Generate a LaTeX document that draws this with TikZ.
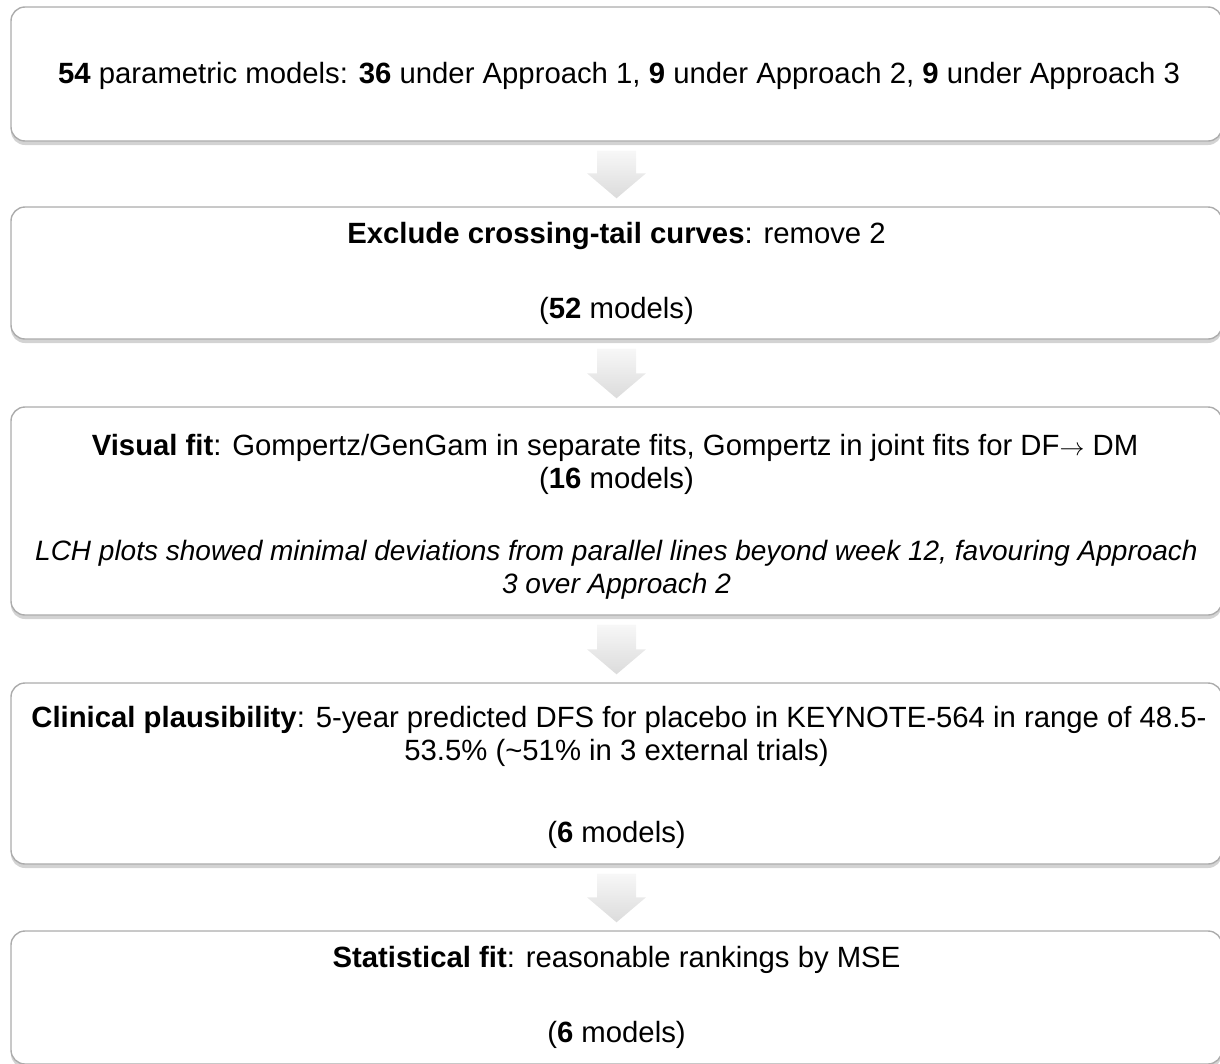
\documentclass[tikz,border=0pt]{standalone}
\usepackage{fontspec}
\setmainfont{Liberation Sans}
\usetikzlibrary{shadows,calc}
\tikzset{
  box/.style={draw=gray!65, line width=1.4pt, rounded corners=14pt, fill=white,
    drop shadow={opacity=0.35, shadow xshift=0pt, shadow yshift=-4pt},
    minimum width=1211pt, inner sep=0pt},
  txt/.style={font=\fontsize{29.3}{32}\selectfont, inner sep=0pt, anchor=base},
  itxt/.style={font=\fontsize{28}{32}\selectfont\itshape, inner sep=0pt, anchor=base},
  flowarrow/.style={top color=gray!6, bottom color=gray!28, draw=none},
}
\newcommand\myflowarrow[2]{%
  \path[flowarrow]
    ($(#1.south)+(-19.5,9)$) -- ($(#1.south)+(19.5,9)$) --
    ($(#2.north)+(19.5,-33)$) -- ($(#2.north)+(29.5,-33)$) --
    ($(#2.north)+(0,-8)$) --
    ($(#2.north)+(-29.5,-33)$) -- ($(#2.north)+(-19.5,-33)$) -- cycle;}
\begin{document}
\begin{tikzpicture}[x=1pt,y=-1pt]
\useasboundingbox (0,0) rectangle (1220,1063);
\node[box, minimum height=134pt] (b1) at (616.5,74) {};
\node[box, minimum height=132pt] (b2) at (616.5,273) {};
\node[box, minimum height=208pt] (b3) at (616.5,511) {};
\node[box, minimum height=181pt] (b4) at (616.5,773.5) {};
\node[box, minimum height=133pt] (b5) at (616.5,997.5) {};

\node[txt] (t1) at (619,83) {\textbf{54} parametric models: \textbf{36} under Approach 1, \textbf{9} under Approach 2, \textbf{9} under Approach 3};
\node[txt] (t2a) at (616.5,243) {\textbf{Exclude crossing-tail curves}: remove 2};
\node[txt] (t2b) at (616.5,318) {(\textbf{52} models)};
\node[txt] (t3a) at (615,455) {\textbf{Visual fit}: Gompertz/GenGam in separate fits, Gompertz in joint fits for DF$\rightarrow$ DM};
\node[txt] (t3b) at (616.5,488) {(\textbf{16} models)};
\node[itxt] (t3c) at (616.5,560) {LCH plots showed minimal deviations from parallel lines beyond week 12, favouring Approach};
\node[itxt] (t3d) at (616.5,593) {3 over Approach 2};
\node[txt] (t4a) at (619,727) {\textbf{Clinical plausibility}: 5-year predicted DFS for placebo in KEYNOTE-564 in range of 48.5-};
\node[txt] (t4b) at (616.5,760) {53.5\% (\textasciitilde 51\% in 3 external trials)};
\node[txt] (t4c) at (616.5,842) {(\textbf{6} models)};
\node[txt] (t5a) at (616.5,967) {\textbf{Statistical fit}: reasonable rankings by MSE};
\node[txt] (t5b) at (616.5,1042) {(\textbf{6} models)};

\myflowarrow{b1}{b2}
\myflowarrow{b2}{b3}
\myflowarrow{b3}{b4}
\myflowarrow{b4}{b5}
\end{tikzpicture}
\end{document}
